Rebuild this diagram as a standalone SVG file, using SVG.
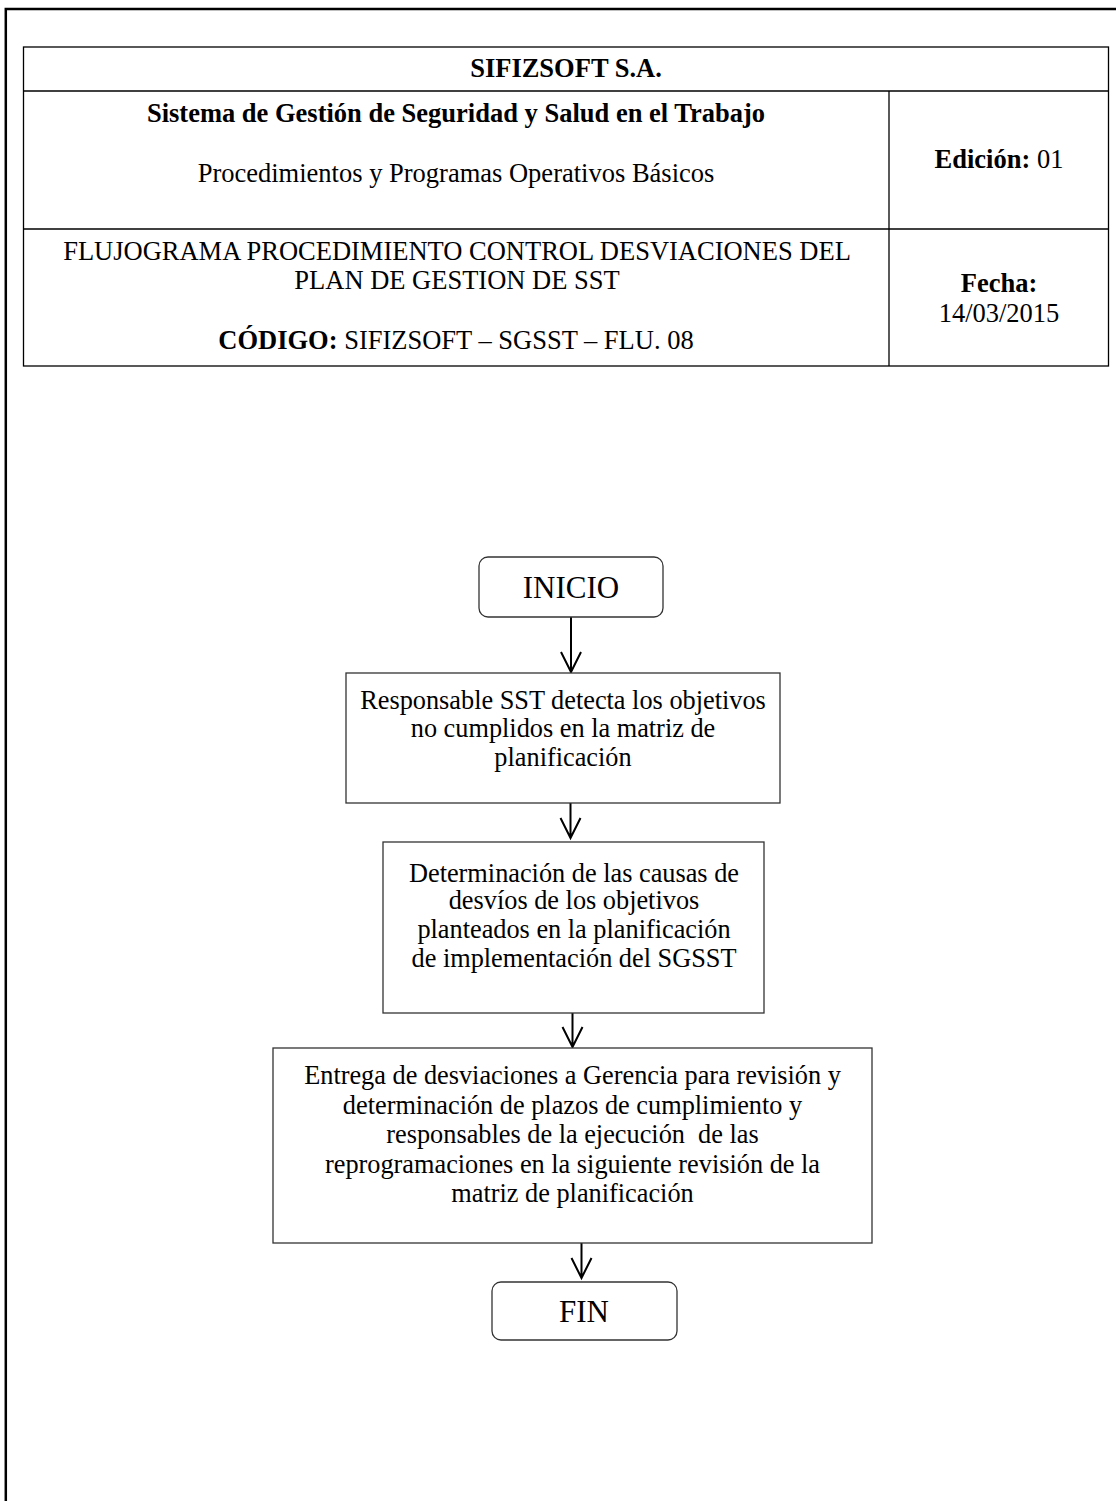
<svg xmlns="http://www.w3.org/2000/svg" width="1116" height="1501" viewBox="0 0 1116 1501">
<style>
text{font-family:"Liberation Serif","Times New Roman",serif;fill:#000;text-anchor:middle}
.h{font-size:26.5px}
.b{font-weight:bold}
.n{font-size:26.3px}
.t{font-size:31px}
.box{fill:#fff;stroke:#333;stroke-width:1.3}
.grid{fill:none;stroke:#000;stroke-width:1.3}
.arrow{fill:none;stroke:#000;stroke-width:2}
</style>
<rect x="0" y="0" width="1116" height="1501" fill="#fff"/>
<g id="page-border">
<path d="M5.8 1501 V9 H1116" fill="none" stroke="#000" stroke-width="2.5"/>
</g>
<g id="header">
<rect class="grid" x="23.5" y="47" width="1085" height="319"/>
<line class="grid" x1="23.5" y1="91" x2="1108.5" y2="91"/>
<line class="grid" x1="23.5" y1="229" x2="1108.5" y2="229"/>
<line class="grid" x1="889" y1="91" x2="889" y2="366"/>
<text class="h b" x="566" y="77">SIFIZSOFT S.A.</text>
<text class="h b" x="456" y="122">Sistema de Gestión de Seguridad y Salud en el Trabajo</text>
<text class="h" x="456" y="182">Procedimientos y Programas Operativos Básicos</text>
<text class="h" x="999" y="168"><tspan class="b">Edición:</tspan> 01</text>
<text class="h" x="457" y="260">FLUJOGRAMA PROCEDIMIENTO CONTROL DESVIACIONES DEL</text>
<text class="h" x="457" y="289">PLAN DE GESTION DE SST</text>
<text class="h" x="456" y="349"><tspan class="b">CÓDIGO:</tspan> SIFIZSOFT – SGSST – FLU. 08</text>
<text class="h b" x="999" y="292">Fecha:</text>
<text class="h" x="999" y="322">14/03/2015</text>
</g>
<g id="connectors">
<path class="arrow" d="M571 617 V672 M561 652 L571 672 L581 652"/>
<path class="arrow" d="M570.5 803 V838 M560.5 818 L570.5 838 L580.5 818"/>
<path class="arrow" d="M572.5 1013 V1047 M562.5 1027 L572.5 1047 L582.5 1027"/>
<path class="arrow" d="M581.5 1243 V1278 M571.5 1258 L581.5 1278 L591.5 1258"/>
</g>
<g id="inicio">
<rect class="box" x="479" y="557" width="184" height="60" rx="9"/>
<text class="t" x="571" y="598">INICIO</text>
</g>
<g id="paso1">
<rect class="box" x="346" y="673" width="434" height="130"/>
<text class="n" x="563" y="709">Responsable SST detecta los objetivos</text>
<text class="n" x="563" y="737">no cumplidos en la matriz de</text>
<text class="n" x="563" y="766">planificación</text>
</g>
<g id="paso2">
<rect class="box" x="383" y="842" width="381" height="171"/>
<text class="n" x="574" y="882">Determinación de las causas de</text>
<text class="n" x="574" y="909">desvíos de los objetivos</text>
<text class="n" x="574" y="938">planteados en la planificación</text>
<text class="n" x="574" y="967">de implementación del SGSST</text>
</g>
<g id="paso3">
<rect class="box" x="273" y="1048" width="599" height="195"/>
<text class="n" x="572.5" y="1084">Entrega de desviaciones a Gerencia para revisión y</text>
<text class="n" x="572.5" y="1113.5">determinación de plazos de cumplimiento y</text>
<text class="n" x="572.5" y="1143" xml:space="preserve">responsables de la ejecución  de las</text>
<text class="n" x="572.5" y="1172.5">reprogramaciones en la siguiente revisión de la</text>
<text class="n" x="572.5" y="1202">matriz de planificación</text>
</g>
<g id="fin">
<rect class="box" x="492" y="1282" width="185" height="58" rx="9"/>
<text class="t" x="584" y="1322">FIN</text>
</g>
</svg>
